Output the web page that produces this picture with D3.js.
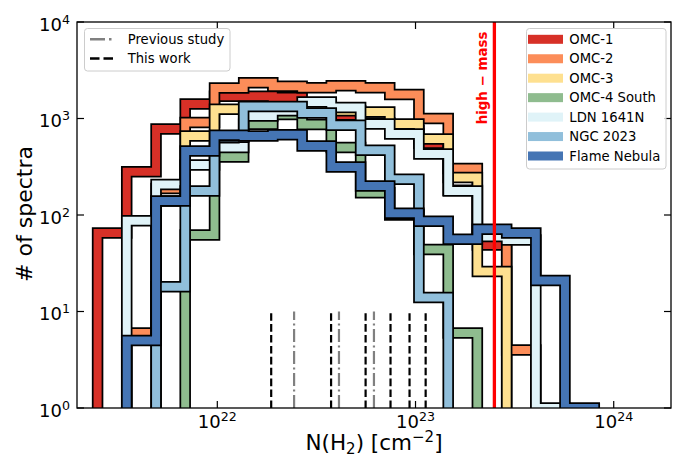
<!DOCTYPE html>
<html>
<head>
<meta charset="utf-8">
<script src="https://cdn.jsdelivr.net/npm/d3@7"></script>
<style>
  body { margin: 0; background: #fff; }
  svg { display: block; font-family: "DejaVu Sans", sans-serif; }
</style>
</head>
<body>
<div id="chart"></div>
<script>
// bin edges, log10 N(H2)
const binExp = [21.396, 21.543, 21.691, 21.838, 21.986, 22.133, 22.280, 22.428, 22.575,
                22.723, 22.870, 23.017, 23.165, 23.312, 23.460, 23.607, 23.754, 23.902];

const regions = ["OMC-1", "OMC-2", "OMC-3", "OMC-4 South", "LDN 1641N", "NGC 2023", "Flame Nebula"];

// counts per bin (0 = empty bin)
const omc1  = [65, 280, 780, 1410, 1700, 1700, 1650, 1400, 1090, 900, 750, 555, 180, 49, 0, 0, 0];
const omc2  = [0, 6, 188, 910, 2070, 2350, 2160, 2080, 2180, 2080, 1770, 1000, 303, 64, 4, 0, 0];
const omc3  = [0, 0, 140, 660, 1250, 1300, 1300, 1250, 1200, 1170, 877, 613, 245, 26, 0, 0, 0];
const omc4  = [0, 0, 0, 62, 400, 870, 1100, 867, 500, 170, 100, 44, 6, 0, 0, 0, 0];
const ldn   = [0, 87, 207, 330, 500, 1060, 1200, 1480, 1300, 877, 690, 429, 177, 60, 55, 1, 0];
const ngc   = [0, 0, 18, 177, 640, 1330, 1330, 1140, 850, 470, 235, 14, 0, 0, 0, 0, 0];
const flame = [0, 5, 140, 460, 670, 660, 680, 520, 314, 200, 104, 86, 56, 71, 65, 21, 1];

const colors = ["#d73027", "#fc8d59", "#fee090", "#8fbc8f", "#e0f3f8", "#91bfdb", "#4575b4"];

const previousStudy = [2.44e22, 4.11e22, 6.17e22];
const thisWork = [1.87e22, 3.75e22, 5.6e22, 7.48e22, 9.33e22, 1.125e23];
const highMass = 2.5e23;

const xTicks = [1e22, 1e23, 1e24];
const yTicks = [1, 10, 100, 1000, 10000];

function drawChart() {
  const width = 673;
  const height = 461;
  const plot = {left: 77, right: 671, top: 22, bottom: 408};
  const series = [omc1, omc2, omc3, omc4, ldn, ngc, flame];

  const svg = d3.select("#chart").append("svg")
      .attr("width", width)
      .attr("height", height);

  const x = d3.scaleLog().domain([Math.pow(10, 21.2921), Math.pow(10, 24.289)]).range([plot.left, plot.right]);
  const y = d3.scaleLog().domain([1, 1e4]).range([plot.bottom, plot.top]);

  svg.append("clipPath").attr("id", "clip")
    .append("rect")
      .attr("x", plot.left).attr("y", plot.top)
      .attr("width", plot.right - plot.left).attr("height", plot.bottom - plot.top);

  const g = svg.append("g").attr("clip-path", "url(#clip)");

  const edges = binExp.map(e => Math.pow(10, e));
  const floor = 1e-3;
  const line = d3.line().x(d => x(d[0])).y(d => y(d[1]));

  function stepPoints(counts) {
    const pts = [[edges[0], floor]];
    counts.forEach((c, i) => {
      const v = c > 0 ? c : floor;
      pts.push([edges[i], v]);
      pts.push([edges[i + 1], v]);
    });
    pts.push([edges[edges.length - 1], floor]);
    return pts;
  }

  // each histogram: black outline then the coloured band, drawn in order
  series.forEach((counts, i) => {
    const pts = stepPoints(counts);
    g.append("path")
      .attr("d", line(pts))
      .attr("fill", "none")
      .attr("stroke", "#000")
      .attr("stroke-width", 11.5)
      .attr("stroke-linejoin", "miter");
    g.append("path")
      .attr("d", line(pts))
      .attr("fill", "none")
      .attr("stroke", colors[i])
      .attr("stroke-width", 8)
      .attr("stroke-linejoin", "miter");
  });

  // reference lines
  g.selectAll(".prev")
    .data(previousStudy)
    .join("line")
      .attr("x1", d => x(d)).attr("x2", d => x(d))
      .attr("y1", y(1)).attr("y2", y(10))
      .attr("stroke", "#808080")
      .attr("stroke-width", 2.2)
      .attr("stroke-dasharray", "13,3.5,2,3.5");

  g.selectAll(".work")
    .data(thisWork)
    .join("line")
      .attr("x1", d => x(d)).attr("x2", d => x(d))
      .attr("y1", y(1)).attr("y2", y(10))
      .attr("stroke", "#000")
      .attr("stroke-width", 2.2)
      .attr("stroke-dasharray", "7.6,3.3");

  g.append("line")
    .attr("x1", x(highMass)).attr("x2", x(highMass))
    .attr("y1", plot.top).attr("y2", plot.bottom)
    .attr("stroke", "#ff0000")
    .attr("stroke-width", 3.3);

  svg.append("text")
    .attr("transform", `translate(${x(highMass) - 7},${78}) rotate(-90)`)
    .attr("text-anchor", "middle")
    .attr("fill", "#ff0000")
    .style("font-size", "13.4px")
    .style("font-weight", "bold")
    .text("high \u2212 mass");

  // frame
  svg.append("rect")
    .attr("x", plot.left).attr("y", plot.top)
    .attr("width", plot.right - plot.left).attr("height", plot.bottom - plot.top)
    .attr("fill", "none")
    .attr("stroke", "#000")
    .attr("stroke-width", 1.3);

  // ticks, inward on all four sides
  const tickLen = 7;
  const ticks = svg.append("g").attr("stroke", "#000").attr("stroke-width", 1.2);
  xTicks.forEach(t => {
    ticks.append("line").attr("x1", x(t)).attr("x2", x(t)).attr("y1", plot.bottom).attr("y2", plot.bottom - tickLen);
    ticks.append("line").attr("x1", x(t)).attr("x2", x(t)).attr("y1", plot.top).attr("y2", plot.top + tickLen);
  });
  yTicks.forEach(t => {
    ticks.append("line").attr("x1", plot.left).attr("x2", plot.left + tickLen).attr("y1", y(t)).attr("y2", y(t));
    ticks.append("line").attr("x1", plot.right).attr("x2", plot.right - tickLen).attr("y1", y(t)).attr("y2", y(t));
  });

  const xl = svg.append("g").selectAll("text")
    .data(xTicks)
    .join("text")
      .attr("x", d => x(d))
      .attr("y", 428)
      .attr("text-anchor", "middle")
      .style("font-size", "18px");
  xl.append("tspan").text("10");
  xl.append("tspan").attr("dy", -7).style("font-size", "12.6px").text(d => Math.round(Math.log10(d)));

  const yl = svg.append("g").selectAll("text")
    .data(yTicks)
    .join("text")
      .attr("x", 70)
      .attr("y", d => y(d) + 8.5)
      .attr("text-anchor", "end")
      .style("font-size", "18px");
  yl.append("tspan").text("10");
  yl.append("tspan").attr("dy", -7).style("font-size", "12.6px").text(d => Math.round(Math.log10(d)));

  // axis labels
  const xlab = svg.append("text")
    .attr("x", 374).attr("y", 450)
    .attr("text-anchor", "middle")
    .style("font-size", "21.5px");
  xlab.append("tspan").text("N(H");
  xlab.append("tspan").attr("dy", 4).style("font-size", "15px").text("2");
  xlab.append("tspan").attr("dy", -4).text(") [cm");
  xlab.append("tspan").attr("dy", -8.5).style("font-size", "15px").text("\u22122");
  xlab.append("tspan").attr("dy", 8.5).text("]");

  svg.append("text")
    .attr("transform", "translate(32,214) rotate(-90)")
    .attr("text-anchor", "middle")
    .style("font-size", "22px")
    .text("# of spectra");

  // legend: line styles
  const leg1 = svg.append("g");
  leg1.append("rect")
    .attr("x", 84.5).attr("y", 28.5).attr("width", 145.5).attr("height", 42.5)
    .attr("rx", 3).attr("fill", "#fff").attr("fill-opacity", 0.8)
    .attr("stroke", "#cccccc");
  const styles = [
    {label: "Previous study", color: "#808080", dash: "15,4,2.5,4"},
    {label: "This work", color: "#000", dash: "9.5,4"}
  ];
  styles.forEach((s, i) => {
    const yy = 39.3 + i * 19.2;
    leg1.append("line")
      .attr("x1", 90).attr("x2", 115).attr("y1", yy).attr("y2", yy)
      .attr("stroke", s.color).attr("stroke-width", 2.4).attr("stroke-dasharray", s.dash);
    leg1.append("text")
      .attr("x", 127.7).attr("y", yy + 4.7)
      .style("font-size", "13.2px")
      .text(s.label);
  });

  // legend: regions
  const leg2 = svg.append("g");
  leg2.append("rect")
    .attr("x", 526.5).attr("y", 28.5).attr("width", 139.5).attr("height", 140.5)
    .attr("rx", 3).attr("fill", "#fff").attr("fill-opacity", 0.8)
    .attr("stroke", "#cccccc");
  regions.forEach((name, i) => {
    const yy = 39.3 + i * 19.45;
    leg2.append("rect")
      .attr("x", 528).attr("y", yy - 4.5).attr("width", 35).attr("height", 9)
      .attr("fill", colors[i]);
    leg2.append("text")
      .attr("x", 569.3).attr("y", yy + 4.7)
      .style("font-size", "13.2px")
      .text(name);
  });

  return svg.node();
}

drawChart();
</script>
</body>
</html>
